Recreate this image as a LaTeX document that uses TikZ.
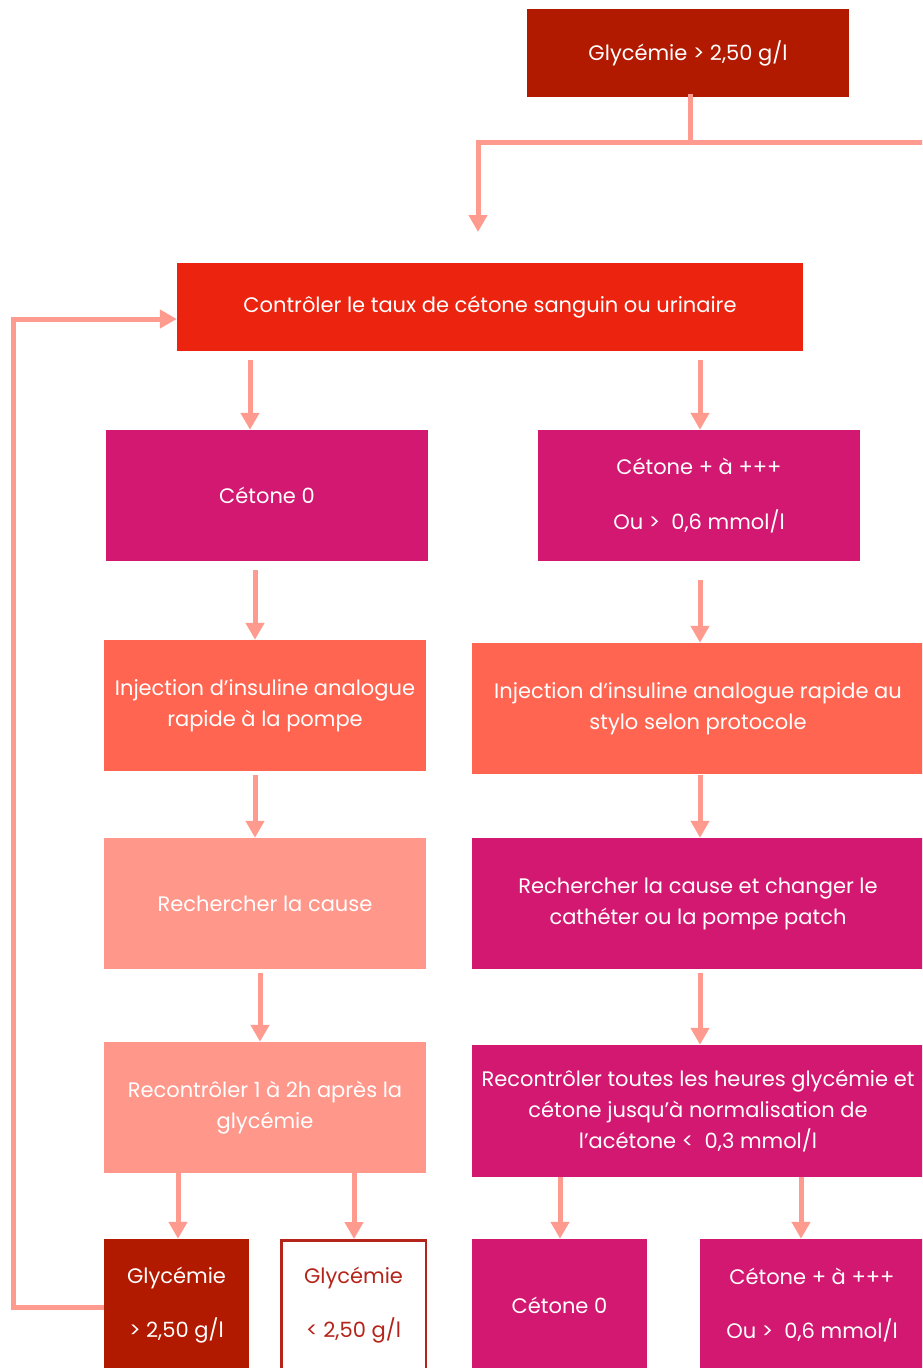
\documentclass[tikz,border=0pt]{standalone}
\usepackage{fontspec}
\setmainfont{Poppins}
\usetikzlibrary{arrows.meta}
\definecolor{darkred}{HTML}{B21A00}
\definecolor{brightred}{HTML}{EC230F}
\definecolor{magentabox}{HTML}{D31872}
\definecolor{coral}{HTML}{FF6550}
\definecolor{lightsalmon}{HTML}{FF978A}
\definecolor{linksalmon}{HTML}{FF9A8F}
\definecolor{borderred}{HTML}{B5241A}
\tikzset{
  box/.style={rectangle, inner sep=0pt, text=white, align=center,
    font=\fontsize{21}{31}\selectfont},
  label text/.style={inner sep=0pt, align=center, text=white,
    font=\fontsize{21}{31}\selectfont},
  conn/.style={draw=linksalmon, line width=5pt,
    -{Triangle[width=18pt,length=17pt]}},
  plainlink/.style={draw=linksalmon, line width=5pt},
}
\begin{document}
\begin{tikzpicture}[x=1pt,y=-1pt]
\useasboundingbox (0,0) rectangle (922,1368);
\clip (0,0) rectangle (922,1368);

% --- boxes ---
\node[box, fill=darkred, minimum width=322, minimum height=88] (top) at (688,53) {Glycémie > 2,50 g/l};
\node[box, fill=brightred, minimum width=626, minimum height=88] (ctrl) at (490,307) {Contrôler le taux de cétone sanguin ou urinaire};

\node[box, fill=magentabox, minimum width=322, minimum height=131] (c0) at (267,495.5) {Cétone 0};
\node[box, fill=magentabox, minimum width=322, minimum height=131] (cp) at (699,495.5) {Cétone + à +++\\[24pt]Ou >~~0,6 mmol/l};

\node[box, fill=coral, minimum width=322, minimum height=131] (injL) at (265,705.5) {Injection d'insuline analogue\\rapide à la pompe};
\node[box, fill=coral, minimum width=452, minimum height=131] (injR) at (698,708.5) {Injection d'insuline analogue rapide au\\stylo selon protocole};

\node[box, fill=lightsalmon, minimum width=322, minimum height=131] (rechL) at (265,903.5) {Rechercher la cause};
\node[box, fill=magentabox, minimum width=452, minimum height=131] (rechR) at (698,903.5) {Rechercher la cause et changer le\\cathéter ou la pompe patch};

\node[box, fill=lightsalmon, minimum width=322, minimum height=131] (recL) at (265,1107.5) {Recontrôler 1 à 2h après la\\glycémie};
\node[box, fill=magentabox, minimum width=452, minimum height=132] (recR) at (698,1111) {Recontrôler toutes les heures glycémie et\\cétone jusqu'à normalisation de\\l'acétone <~~0,3 mmol/l};

\node[box, fill=darkred, minimum width=145, minimum height=161] (gHi) at (176.5,1319.5) {};
\node[label text] (gHiT) at (176.5,1305) {Glycémie\\[23pt]> 2,50 g/l};
\node[box, fill=white, draw=borderred, line width=2.5pt, minimum width=144.5, minimum height=158.5] (gLo) at (353.5,1319.5) {};
\node[label text, text=borderred] (gLoT) at (353.5,1305) {Glycémie\\[23pt]< 2,50 g/l};
\node[box, fill=magentabox, minimum width=175, minimum height=161] (k0) at (559.5,1319.5) {};
\node[label text] (k0T) at (559.5,1305) {Cétone 0};
\node[box, fill=magentabox, minimum width=224, minimum height=161] (kp) at (812,1319.5) {};
\node[label text] (kpT) at (812,1305) {Cétone + à +++\\[23pt]Ou >~~0,6 mmol/l};

% --- guide coordinates for connector columns ---
\coordinate (xa) at (250,0);
\coordinate (xb) at (700,0);
\coordinate (xc) at (255,0);
\coordinate (xd) at (260,0);
\coordinate (xe) at (178,0);
\coordinate (xf) at (354,0);
\coordinate (xg) at (560,0);
\coordinate (xh) at (801,0);
\coordinate (stem) at (690,142);
\coordinate (split) at (478,142);
\coordinate (splitEnd) at (478,232);
\coordinate (offright) at (940,142);
\coordinate (loopA) at (13,1307);
\coordinate (loopB) at (13,319);

% --- connectors ---
\draw[plainlink] ([yshift=3pt]top.south -| stem) -- (stem);
\draw[conn] (offright) -- (split) -- (splitEnd);

\draw[conn, shorten <=9pt] (ctrl.south -| xa) -- (c0.north -| xa);
\draw[conn, shorten <=9pt] (ctrl.south -| xb) -- (cp.north -| xb);

\draw[conn, shorten <=9pt] (c0.south -| xc) -- (injL.north -| xc);
\draw[conn, shorten <=19pt] (cp.south -| xb) -- (injR.north -| xb);

\draw[conn, shorten <=4pt] (injL.south -| xc) -- (rechL.north -| xc);
\draw[conn, shorten <=1pt] (injR.south -| xb) -- (rechR.north -| xb);

\draw[conn, shorten <=4pt] (rechL.south -| xd) -- (recL.north -| xd);
\draw[conn, shorten <=4pt] (rechR.south -| xb) -- (recR.north -| xb);

\draw[conn] (recL.south -| xe) -- (gHi.north -| xe);
\draw[conn] (recL.south -| xf) -- (gLo.north -| xf);
\draw[conn] (recR.south -| xg) -- (k0.north -| xg);
\draw[conn] (recR.south -| xh) -- (kp.north -| xh);

% return loop back to the ketone check
\draw[conn] (gHi.west |- loopA) -- (loopA) -- (loopB) -- (ctrl.west |- loopB);
\end{tikzpicture}
\end{document}
